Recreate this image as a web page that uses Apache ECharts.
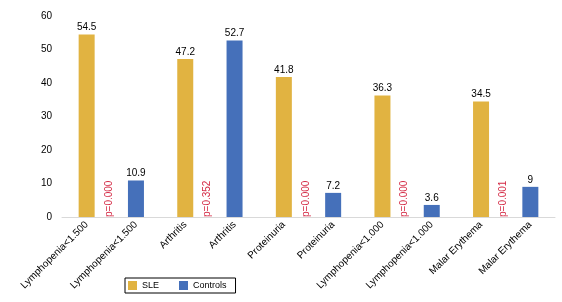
<!DOCTYPE html>
<html><head><meta charset="utf-8">
<script src="https://cdn.jsdelivr.net/npm/echarts@6/dist/echarts.min.js"></script>
<style>html,body{margin:0;padding:0;background:#fff}#c{width:562px;height:302px}</style>
</head><body><div id="c"></div>
<script>
var categories = ['Lymphopenia<1.500','Lymphopenia<1.500','Arthritis','Arthritis','Proteinuria','Proteinuria','Lymphopenia<1.000','Lymphopenia<1.000','Malar Erythema','Malar Erythema'];
var sleValues = [54.5,'-',47.2,'-',41.8,'-',36.3,'-',34.5,'-'];
var controlValues = ['-',10.9,'-',52.7,'-',7.2,'-',3.6,'-',9];
var pCategoryIndex = [0,2,4,6,8];
var pLabels = ['p=0.000','p=0.352','p=0.000','p=0.000','p=0.001'];
var yTicks = [0,10,20,30,40,50,60];

var font = 'Liberation Sans, Arial, sans-serif';
var chart = echarts.init(document.getElementById('c'), null, {renderer:'canvas'});
chart.setOption({
  animation:false,
  grid:{left:62,right:7,top:16,bottom:85},
  legend:{
    data:['SLE','Controls'], left:125, top:278, orient:'horizontal',
    itemWidth:9, itemHeight:9, itemGap:20, icon:'rect',
    borderColor:'#000', borderWidth:1, padding:[3,9,3,3],
    textStyle:{fontFamily:font,fontSize:9,color:'#000'}
  },
  xAxis:{
    type:'category', data:categories,
    axisLine:{lineStyle:{color:'#d9d9d9',width:1}},
    axisTick:{show:false},
    axisLabel:{rotate:45, interval:0, fontFamily:font, fontSize:10, color:'#000', margin:6}
  },
  yAxis:{
    type:'value', min:yTicks[0], max:yTicks[yTicks.length-1], interval:10,
    axisLine:{show:false}, axisTick:{show:false}, splitLine:{show:false},
    axisLabel:{fontFamily:font,fontSize:10,color:'#000',margin:10}
  },
  series:[
    {name:'SLE', type:'bar', data:sleValues, barWidth:16, barGap:'-100%',
     itemStyle:{color:'#E1B341'},
     label:{show:true,position:'top',distance:2,fontFamily:font,fontSize:10,color:'#000'}},
    {name:'Controls', type:'bar', data:controlValues, barWidth:16, barGap:'-100%',
     itemStyle:{color:'#4570BA'},
     label:{show:true,position:'top',distance:2,fontFamily:font,fontSize:10,color:'#000'}},
    {name:'p', type:'custom', silent:true,
     data:pCategoryIndex.map(function(c,i){return [c,0,pLabels[i]];}),
     renderItem:function(params, api){
       var pt = api.coord([api.value(0), api.value(1)]);
       var band = api.size([1,0])[0];
       return {type:'text', x: pt[0] + band*0.45, y: pt[1], rotation: Math.PI/2,
         style:{text: pLabels[params.dataIndex], fill:'#D42A45', font:'10px '+font,
                align:'left', verticalAlign:'middle'}};
     }}
  ]
});
</script></body></html>
